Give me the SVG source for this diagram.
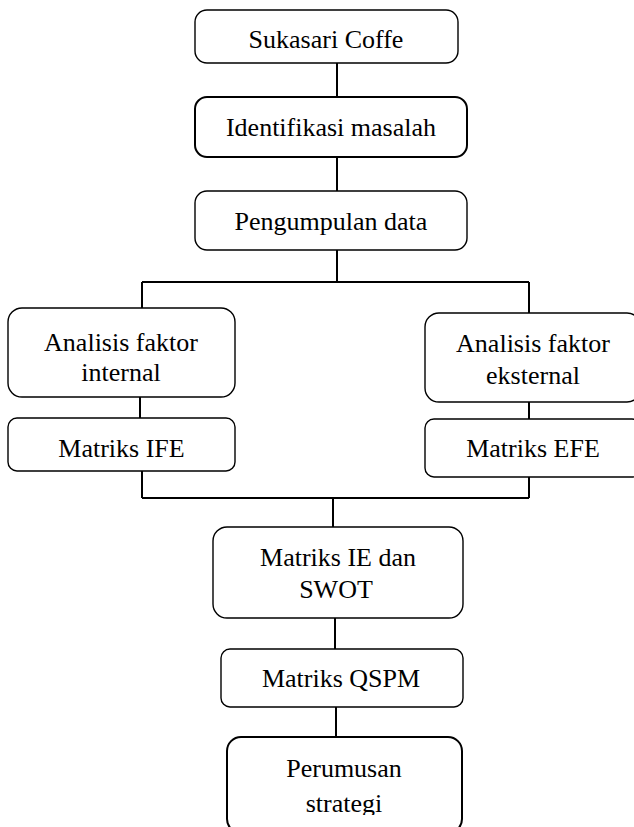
<svg xmlns="http://www.w3.org/2000/svg" width="634" height="827" viewBox="0 0 634 827">
<style>
.box{fill:#fff;stroke:#000;stroke-width:1.4}
.thick{stroke-width:2}
.t{font-family:"Liberation Serif",serif;font-size:26px;fill:#000;text-anchor:middle}
.c{fill:none;stroke:#000;stroke-width:2}
</style>
<defs>
<clipPath id="clipBottom"><rect x="0" y="0" width="634" height="815"/></clipPath>
</defs>
<rect width="634" height="827" fill="#fff"/>
<g id="connectors">
<path class="c" d="M337 63V97M337 157V191M337 250V282M142 282H529M142 282V308M529 282V313M140 397V418M529 402V419M142 471V498M529 477V498M142 498H529M333 498V527M335 618V649M336 707V737"/>
</g>
<g id="n1"><rect class="box" x="195" y="10" width="263" height="53" rx="12"/><text class="t" x="326" y="48">Sukasari Coffe</text></g>
<g id="n2"><rect class="box thick" x="195" y="97" width="272" height="60" rx="12"/><text class="t" x="331" y="136">Identifikasi masalah</text></g>
<g id="n3"><rect class="box" x="195" y="191" width="272" height="59" rx="12"/><text class="t" x="331" y="230">Pengumpulan data</text></g>
<g id="n4"><rect class="box" x="8" y="308" width="227" height="89" rx="14"/><text class="t" x="121" y="351">Analisis faktor</text><text class="t" x="121" y="381">internal</text></g>
<g id="n5"><rect class="box" x="8" y="418" width="227" height="53" rx="9"/><text class="t" x="121.5" y="457">Matriks IFE</text></g>
<g id="n6"><rect class="box" x="425" y="313" width="216" height="89" rx="14"/><text class="t" x="533" y="352">Analisis faktor</text><text class="t" x="533" y="384">eksternal</text></g>
<g id="n7"><rect class="box" x="425" y="419" width="216" height="58" rx="9"/><text class="t" x="533" y="457">Matriks EFE</text></g>
<g id="n8"><rect class="box" x="213" y="527" width="250" height="91" rx="14"/><text class="t" x="338" y="566">Matriks IE dan</text><text class="t" x="336" y="598">SWOT</text></g>
<g id="n9"><rect class="box" x="221" y="649" width="242" height="58" rx="9"/><text class="t" x="341" y="687">Matriks QSPM</text></g>
<g id="n10"><rect class="box thick" x="227" y="737" width="235" height="96" rx="14"/><text class="t" x="344" y="777">Perumusan</text><text class="t" x="344" y="812" clip-path="url(#clipBottom)">strategi</text></g>
</svg>
